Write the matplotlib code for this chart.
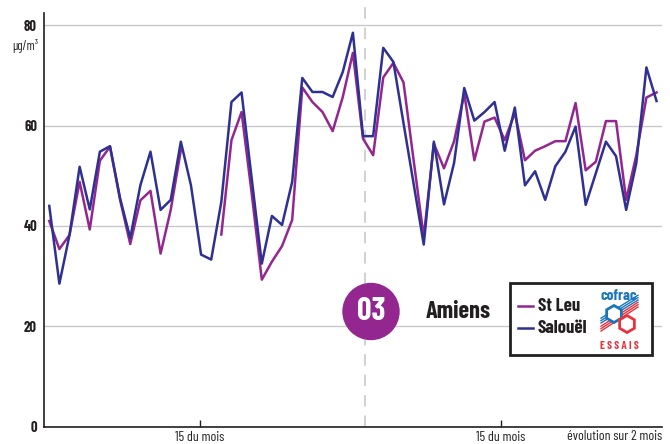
import matplotlib
matplotlib.use("Agg")
import matplotlib.pyplot as plt
import numpy as np
from matplotlib.patches import Ellipse, Rectangle, Polygon
from matplotlib.lines import Line2D

# ========= Daily concentrations, Amiens, 2 months =========

days = np.arange(61)

st_leu = [41.0, 35.4, 38.2, 48.8, 39.3, 53.0, 55.8, 45.2, 36.4, 45.1,
          47.0, 34.5, 43.2, 55.1, np.nan, np.nan, np.nan, 38.3, 57.1, 62.7,
          46.5, 29.3, 32.9, 36.0, 41.2, 67.6, 64.7, 62.7, 58.9, 65.7,
          74.5, 57.4, 54.1, 69.6, 72.5, 68.6, 53.1, 37.8, 56.4, 51.5,
          56.9, 66.4, 53.1, 60.8, 61.6, 57.1, 62.5, 53.1, 55.0, 55.9,
          56.9, 56.9, 64.5, 51.1, 52.8, 60.9, 60.9, 45.2, 54.1, 65.6, 66.6]

salouel = [44.0, 28.5, 38.2, 51.8, 43.3, 54.8, 55.9, 45.5, 37.6, 48.1,
           54.8, 43.2, 45.2, 56.8, 48.1, 34.3, 33.3, 44.8, 64.7, 66.6,
           49.5, 32.5, 42.0, 40.2, 48.8, 69.5, 66.7, 66.7, 65.7, 70.7,
           78.5, 57.9, 57.9, 75.5, 72.7, 60.5, 48.4, 36.3, 56.8, 44.3,
           52.6, 67.5, 61.0, 62.7, 64.7, 55.0, 63.6, 48.1, 50.9, 45.2,
           51.9, 54.8, 59.8, 44.2, 50.5, 56.8, 53.9, 43.2, 52.5, 71.6, 64.9]

tick_pos = [14.9, 44.6]
tick_labels = ['15 du mois', '15 du mois']
month_split = 31.2
y_ticks = [0, 20, 40, 60, 80]

purple = '#93278F'
blue = '#2E3192'
dark = '#231F20'

plt.rcParams['font.family'] = ['Barlow Condensed', 'Archivo Narrow', 'Liberation Sans', 'DejaVu Sans']

W, H = 670, 444


def px(x, y):
    # pixel position (from top-left) -> figure fraction
    return x / W, (H - y) / H


fig = plt.figure(figsize=[6.7, 4.44], dpi=100)
ax = fig.add_axes([44 / W, (H - 426.7) / H, (662 - 44) / W, (426.7 - 12.7) / H])

ax.plot(days, st_leu, c=purple, lw=1.8, label='St Leu', zorder=3)
ax.plot(days, salouel, c=blue, lw=1.8, label='Salouël', zorder=4)

ax.axvline(month_split, ymin=0, ymax=1.019, clip_on=False, color='#d2d2d2',
           lw=1.5, dashes=(5.5, 4.3), zorder=1)

ax.set_xlim(-0.52, 60.54)
ax.set_ylim(0, 82.5)
ax.set_yticks(y_ticks)
ax.set_yticklabels([str(v) for v in y_ticks], fontweight='bold', fontsize=10.5, color=dark)
ax.set_xticks(tick_pos)
ax.set_xticklabels(tick_labels, fontsize=10, color=dark)
ax.tick_params(axis='y', length=0, pad=5)
ax.tick_params(axis='x', direction='in', length=5, width=1, color=dark, pad=3)
ax.yaxis.grid(True, color='#c8c8c8', lw=1)
ax.set_axisbelow(True)

for s in ['top', 'right']:
    ax.spines[s].set_visible(False)
for s in ['left', 'bottom']:
    ax.spines[s].set_color(dark)
    ax.spines[s].set_linewidth(1.2)

fig.text(*px(38, 46), 'µg/m³', ha='right', va='center', fontsize=9, color=dark)
fig.text(*px(615, 436), 'évolution sur 2 mois', ha='center', va='center',
         fontsize=10, color=dark)

# site badge
fig.patches.append(Ellipse(px(371, 311.5), 56 / W, 56 / H, transform=fig.transFigure,
                           color=purple, zorder=5))
fig.text(*px(371, 312), '03', ha='center', va='center', fontsize=23,
         fontweight='bold', color='white', zorder=6)
fig.text(*px(458, 312), 'Amiens', ha='center', va='center', fontsize=17.5,
         fontweight='bold', color=dark, zorder=6)

# legend box
x0, y0 = px(510, 355)
fig.patches.append(Rectangle((x0, y0), 142 / W, 72 / H, transform=fig.transFigure,
                             facecolor='white', edgecolor=dark, lw=2, zorder=5))
for yy, col, lab in [(306, purple, 'St Leu'), (328, blue, 'Salouël')]:
    xa, ya = px(518, yy)
    xb, _ = px(533, yy)
    fig.add_artist(Line2D([xa, xb], [ya, ya], color=col, lw=1.8, zorder=6))
    fig.text(*px(538, yy), lab, ha='left', va='center', fontsize=13.5,
             fontweight='bold', color=dark, zorder=6)

# cofrac logo
logo_blue = '#1B75BC'
logo_red = '#E8323C'
fig.text(*px(619, 296), 'cofrac', ha='center', va='center', fontsize=11,
         fontweight='bold', color=logo_blue, zorder=6)
for k in range(3):
    xa, ya = px(601, 331 - 2.4 * k)
    xb, yb = px(638, 307 - 2.4 * k)
    fig.add_artist(Line2D([xa, xb], [ya, yb], color=logo_red, lw=1.0, zorder=6))
    xa, ya = px(601, 323 - 2.4 * k)
    xb, yb = px(638, 300 - 2.4 * k)
    fig.add_artist(Line2D([xa, xb], [ya, yb], color=logo_blue, lw=1.0, zorder=6))
ang = np.deg2rad(90 + 60 * np.arange(6))
for cx, cy, col in [(614, 314, logo_blue), (627, 324, logo_red)]:
    verts = [px(cx + 8.5 * np.cos(a), cy - 8.5 * np.sin(a)) for a in ang]
    fig.patches.append(Polygon(verts, closed=True, transform=fig.transFigure,
                               facecolor='white', edgecolor=col, lw=2, zorder=7))
fig.text(*px(619, 346), 'E S S A I S', ha='center', va='center', fontsize=8,
         fontweight='bold', color=logo_red, zorder=6)

plt.savefig('out.png', dpi=100)
plt.close(fig)
